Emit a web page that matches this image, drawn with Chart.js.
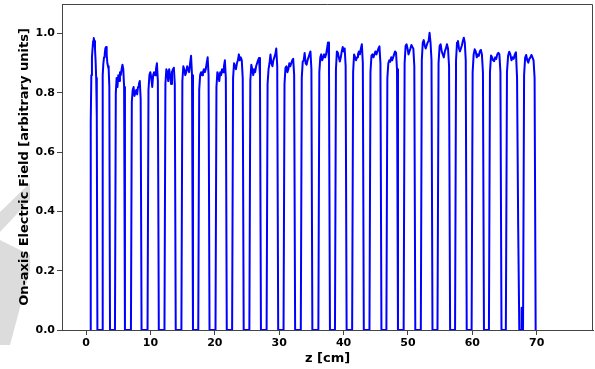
<!DOCTYPE html>
<html><head><meta charset="utf-8">
<script src="https://cdn.jsdelivr.net/npm/chart.js@4.4.0/dist/chart.umd.min.js"></script>
<style>
html,body{margin:0;padding:0;background:#fff;}
#wrap{position:relative;width:595px;height:369px;overflow:hidden;}
#wm{position:absolute;left:0;top:0;}
#c{position:absolute;left:0;top:0;}
</style></head><body>
<div id="wrap">
<svg id="wm" width="595" height="369"><polygon points="30,183 30,200 0,232 0,212" fill="#dcdcdc"/><polygon points="0,240 30,255 30,270 10,345 0,345" fill="#dcdcdc"/></svg>
<canvas id="c" width="595" height="369"></canvas>
</div>
<script>
// Cell boundaries (z in cm) where the field returns to zero
const cellStart = [0.62, 2.47, 4.48, 6.96, 9.54, 12.17, 14.80, 17.42, 20.10, 22.68, 25.36, 28.04, 30.67, 33.35, 36.08, 38.66, 41.33, 44.02, 46.65, 49.33, 52.00, 54.59, 57.32, 59.89, 62.58, 65.21, 67.88];
const cellEnd   = [1.75, 3.71, 6.03, 8.61, 11.29, 13.92, 16.60, 19.17, 21.85, 24.48, 27.16, 29.84, 32.47, 35.15, 37.88, 40.47, 43.14, 45.88, 48.45, 51.14, 53.81, 56.55, 59.13, 61.81, 64.53, 67.30, 69.84];
// Field samples across each cell (evenly spaced from start to end)
const cellField = [
  [0, 0.70, 0.86, 0.92, 0.95, 0.975, 0.985, 0.975, 0.95, 0.91, 0.85, 0.72, 0],
  [0, 0.86, 0.90, 0.92, 0.93, 0.95, 0.955, 0.93, 0.90, 0.89, 0.88, 0.82, 0],
  [0, 0.80, 0.85, 0.82, 0.86, 0.84, 0.87, 0.86, 0.88, 0.895, 0.88, 0.82, 0],
  [0, 0.77, 0.81, 0.82, 0.79, 0.80, 0.81, 0.795, 0.82, 0.83, 0.84, 0.78, 0],
  [0, 0.81, 0.86, 0.87, 0.85, 0.82, 0.86, 0.87, 0.86, 0.88, 0.90, 0.84, 0],
  [0, 0.83, 0.88, 0.87, 0.84, 0.88, 0.86, 0.83, 0.87, 0.88, 0.885, 0.83, 0],
  [0, 0.84, 0.89, 0.88, 0.86, 0.87, 0.89, 0.88, 0.87, 0.90, 0.925, 0.86, 0],
  [0, 0.81, 0.86, 0.87, 0.86, 0.87, 0.88, 0.87, 0.88, 0.90, 0.92, 0.86, 0],
  [0, 0.82, 0.87, 0.86, 0.84, 0.87, 0.86, 0.88, 0.87, 0.89, 0.91, 0.85, 0],
  [0, 0.85, 0.90, 0.89, 0.88, 0.90, 0.91, 0.93, 0.91, 0.92, 0.91, 0.85, 0],
  [0, 0.84, 0.895, 0.88, 0.86, 0.88, 0.87, 0.89, 0.90, 0.91, 0.918, 0.86, 0],
  [0, 0.83, 0.88, 0.90, 0.93, 0.90, 0.89, 0.91, 0.92, 0.93, 0.95, 0.89, 0],
  [0, 0.83, 0.885, 0.89, 0.87, 0.88, 0.90, 0.89, 0.90, 0.91, 0.915, 0.86, 0],
  [0, 0.85, 0.905, 0.91, 0.935, 0.90, 0.895, 0.91, 0.92, 0.93, 0.94, 0.88, 0],
  [0, 0.87, 0.92, 0.93, 0.91, 0.92, 0.93, 0.92, 0.93, 0.95, 0.97, 0.91, 0],
  [0, 0.88, 0.94, 0.935, 0.92, 0.906, 0.92, 0.94, 0.955, 0.94, 0.95, 0.89, 0],
  [0, 0.87, 0.93, 0.92, 0.91, 0.92, 0.93, 0.94, 0.93, 0.95, 0.964, 0.90, 0],
  [0, 0.87, 0.926, 0.93, 0.92, 0.93, 0.94, 0.93, 0.94, 0.95, 0.957, 0.90, 0],
  [0, 0.85, 0.90, 0.91, 0.905, 0.92, 0.91, 0.92, 0.93, 0.94, 0.935, 0.88, 0],
  [0, 0.90, 0.958, 0.964, 0.95, 0.93, 0.94, 0.95, 0.962, 0.955, 0.95, 0.89, 0],
  [0, 0.91, 0.97, 0.978, 0.96, 0.95, 0.96, 0.97, 0.975, 1.003, 0.97, 0.91, 0],
  [0, 0.90, 0.958, 0.964, 0.94, 0.93, 0.92, 0.94, 0.95, 0.964, 0.95, 0.89, 0],
  [0, 0.91, 0.97, 0.975, 0.95, 0.94, 0.95, 0.96, 0.975, 0.986, 0.97, 0.91, 0],
  [0, 0.87, 0.93, 0.947, 0.94, 0.92, 0.93, 0.925, 0.94, 0.945, 0.93, 0.87, 0],
  [0, 0.87, 0.926, 0.92, 0.91, 0.907, 0.92, 0.915, 0.93, 0.935, 0.93, 0.87, 0],
  [0, 0.87, 0.925, 0.939, 0.93, 0.91, 0.92, 0.915, 0.93, 0.937, 0.85, 0.35, 0],
  [0, 0.86, 0.919, 0.928, 0.91, 0.902, 0.915, 0.92, 0.928, 0.92, 0.91, 0.85, 0]
];
// Small glitch near z = 67.6 cm
const glitchZ = [67.60, 67.66, 67.72];
const glitchE = [0, 0.075, 0];

const xTicks = [0, 10, 20, 30, 40, 50, 60, 70];
const yTicks = [0.0, 0.2, 0.4, 0.6, 0.8, 1.0];

const points = [];
cellStart.forEach((s, i) => {
  const e = cellEnd[i], f = cellField[i], n = f.length;
  f.forEach((v, k) => points.push({x: s + (e - s) * k / (n - 1), y: v}));
  if (i === 25) glitchZ.forEach((z, k) => points.push({x: z, y: glitchE[k]}));
});

const tickFont = {family: 'DejaVu Sans', weight: 'bold', size: 11};
const titleFont = {family: 'DejaVu Sans', weight: 'bold', size: 13};

const frame = {
  id: 'frame',
  afterDraw(chart) {
    const {ctx, chartArea: a} = chart;
    ctx.save();
    ctx.strokeStyle = '#444';
    ctx.lineWidth = 1;
    ctx.beginPath();
    ctx.moveTo(a.left, a.top + 0.5);
    ctx.lineTo(a.right - 0.5, a.top + 0.5);
    ctx.lineTo(a.right - 0.5, a.bottom);
    ctx.stroke();
    ctx.restore();
  }
};

new Chart(document.getElementById('c'), {
  type: 'line',
  data: {datasets: [{data: points, borderColor: '#0000ff', borderWidth: 2, pointRadius: 0, tension: 0, fill: false, borderJoinStyle: 'round'}]},
  options: {
    responsive: false,
    animation: false,
    layout: {padding: {top: 4, right: 2, left: 0, bottom: 0}},
    plugins: {legend: {display: false}, tooltip: {enabled: false}},
    scales: {
      x: {
        type: 'linear', min: -3.75, max: 78.75,
        afterBuildTicks: s => { s.ticks = xTicks.map(v => ({value: v})); },
        afterFit: s => { s.height = 39; s.paddingLeft = 0; s.paddingRight = 0; },
        ticks: {font: tickFont, color: '#000', padding: 2, maxRotation: 0, callback: v => String(v)},
        grid: {drawOnChartArea: false, drawTicks: true, tickLength: 5, color: '#444'},
        border: {display: true, color: '#444', width: 1},
        title: {display: true, text: 'z [cm]', font: titleFont, color: '#000', padding: {top: 0, bottom: 3}}
      },
      y: {
        min: 0, max: 1.1,
        afterBuildTicks: s => { s.ticks = yTicks.map(v => ({value: v})); },
        afterFit: s => { s.width = 62; s.paddingTop = 0; s.paddingBottom = 0; },
        ticks: {font: tickFont, color: '#000', padding: 2, callback: v => v.toFixed(1)},
        grid: {drawOnChartArea: false, drawTicks: true, tickLength: 5, color: '#444'},
        border: {display: true, color: '#444', width: 1},
        title: {display: true, text: 'On-axis Electric Field [arbitrary units]', font: titleFont, color: '#000', padding: {top: 17, bottom: 0}}
      }
    }
  },
  plugins: [frame]
});
</script>
</body></html>
